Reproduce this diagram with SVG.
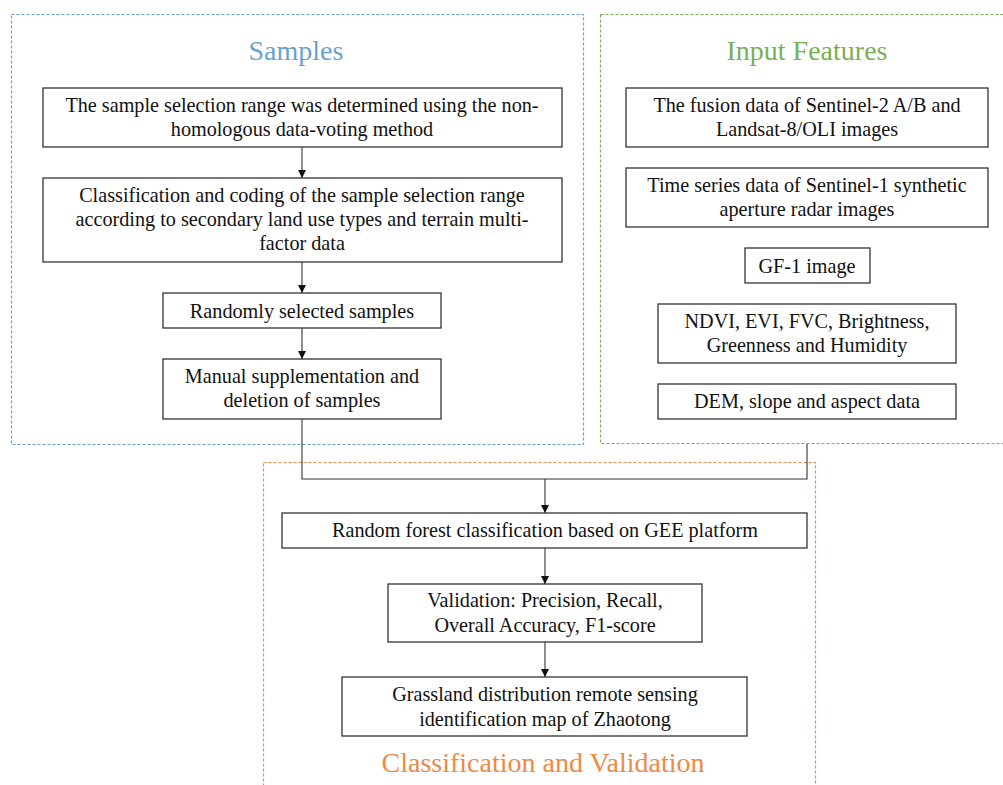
<svg xmlns="http://www.w3.org/2000/svg" width="1003" height="785" viewBox="0 0 1003 785">
<defs>
<marker id="ah" viewBox="0 0 8 10" refX="8" refY="5" markerWidth="8" markerHeight="10" markerUnits="userSpaceOnUse" orient="auto">
<path d="M0,1 L8,5 L0,9 Z" fill="#111"/>
</marker>
<style>
.box{fill:#fff;stroke:#333;stroke-width:1.3}
.t{font-family:"Liberation Serif","Times New Roman",serif;font-size:20.2px;fill:#111;text-anchor:middle}
.ttl{font-family:"Liberation Serif","Times New Roman",serif;font-size:28px;text-anchor:middle}
.grp{fill:none;stroke-width:1.2;stroke-dasharray:3 2}
.c{fill:none;stroke:#333;stroke-width:1.1}
</style>
</defs>
<rect width="1003" height="785" fill="#fff"/>
<g id="samples-container">
<rect class="grp" x="11.5" y="14.5" width="572" height="430" stroke="#6a9fd4"/>
<text class="ttl" x="296" y="60" fill="#6a9fd4">Samples</text>
</g>
<g id="features-container">
<rect class="grp" x="600.5" y="14.5" width="405" height="429" stroke="#7aaf52"/>
<text class="ttl" x="807" y="60" fill="#7aaf52">Input Features</text>
</g>
<g id="classification-container">
<rect class="grp" x="263.5" y="462.5" width="552" height="330" stroke="#ee8a45"/>
<text class="ttl" x="543" y="772" fill="#ee8a45">Classification and Validation</text>
</g>
<g id="connectors">
<line class="c" x1="302" y1="147" x2="302" y2="178" marker-end="url(#ah)"/>
<line class="c" x1="302" y1="262" x2="302" y2="293" marker-end="url(#ah)"/>
<line class="c" x1="302" y1="328" x2="302" y2="359" marker-end="url(#ah)"/>
<polyline class="c" points="302,419 302,479 807,479 807,444"/>
<line class="c" x1="545" y1="479" x2="545" y2="513" marker-end="url(#ah)"/>
<line class="c" x1="545" y1="548" x2="545" y2="584" marker-end="url(#ah)"/>
<line class="c" x1="545" y1="642" x2="545" y2="677" marker-end="url(#ah)"/>
</g>
<g id="s1">
<rect class="box" x="43" y="88" width="519" height="59"/>
<text class="t" x="302" y="112">The sample selection range was determined using the non-</text>
<text class="t" x="302" y="136">homologous data-voting method</text>
</g>
<g id="s2">
<rect class="box" x="43" y="178" width="519" height="84"/>
<text class="t" x="302" y="202">Classification and coding of the sample selection range</text>
<text class="t" x="302" y="226">according to secondary land use types and terrain multi-</text>
<text class="t" x="302" y="250">factor data</text>
</g>
<g id="s3">
<rect class="box" x="163" y="293" width="278" height="35"/>
<text class="t" x="302" y="318">Randomly selected samples</text>
</g>
<g id="s4">
<rect class="box" x="163" y="359" width="278" height="60"/>
<text class="t" x="302" y="383">Manual supplementation and</text>
<text class="t" x="302" y="407">deletion of samples</text>
</g>
<g id="f1">
<rect class="box" x="626" y="88" width="362" height="59"/>
<text class="t" x="807" y="112">The fusion data of Sentinel-2 A/B and</text>
<text class="t" x="807" y="136">Landsat-8/OLI images</text>
</g>
<g id="f2">
<rect class="box" x="626" y="168" width="362" height="59"/>
<text class="t" x="807" y="192">Time series data of Sentinel-1 synthetic</text>
<text class="t" x="807" y="216">aperture radar images</text>
</g>
<g id="f3">
<rect class="box" x="745" y="248" width="125" height="35"/>
<text class="t" x="807" y="273">GF-1 image</text>
</g>
<g id="f4">
<rect class="box" x="658" y="304" width="298" height="59"/>
<text class="t" x="807" y="328">NDVI, EVI, FVC, Brightness,</text>
<text class="t" x="807" y="352">Greenness and Humidity</text>
</g>
<g id="f5">
<rect class="box" x="658" y="384" width="298" height="35"/>
<text class="t" x="807" y="408">DEM, slope and aspect data</text>
</g>
<g id="c1">
<rect class="box" x="282" y="513" width="525" height="35"/>
<text class="t" x="545" y="537">Random forest classification based on GEE platform</text>
</g>
<g id="c2">
<rect class="box" x="388" y="584" width="314" height="58"/>
<text class="t" x="545" y="607">Validation: Precision, Recall,</text>
<text class="t" x="545" y="632">Overall Accuracy, F1-score</text>
</g>
<g id="c3">
<rect class="box" x="342" y="677" width="405" height="59"/>
<text class="t" x="545" y="701">Grassland distribution remote sensing</text>
<text class="t" x="545" y="726">identification map of Zhaotong</text>
</g>
</svg>
